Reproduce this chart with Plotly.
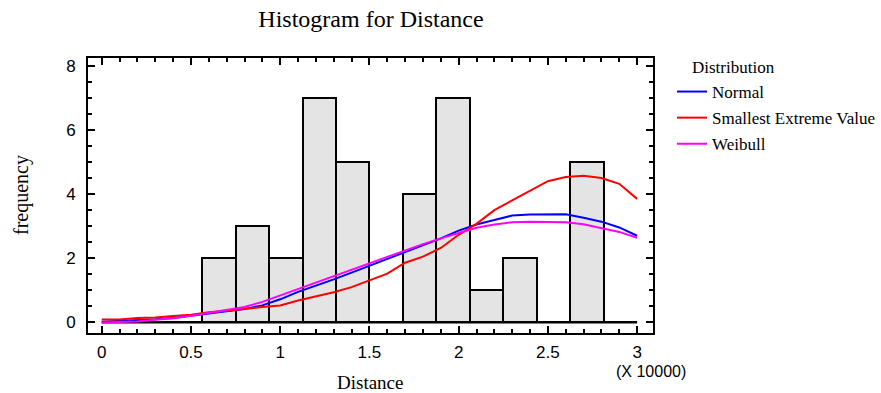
import plotly.graph_objects as go

# ---- data (Distance in units of 10000) ----
bin_edges = [0, 0.1875, 0.375, 0.5625, 0.75, 0.9375, 1.125, 1.3125, 1.5,
             1.6875, 1.875, 2.0625, 2.25, 2.4375, 2.625, 2.8125, 3.0]
counts = [0, 0, 0, 2, 3, 2, 7, 5, 0, 4, 7, 1, 2, 0, 5, 0]

curve_x = [0.0, 0.1, 0.2, 0.3, 0.4, 0.5, 0.6, 0.7, 0.8, 0.9, 1.0,
           1.1, 1.2, 1.3, 1.4, 1.5, 1.6, 1.7, 1.8, 1.9, 2.0,
           2.1, 2.2, 2.3, 2.4, 2.5, 2.6, 2.7, 2.8, 2.9, 3.0]
normal_y = [0.02, 0.04, 0.07, 0.10, 0.14, 0.21, 0.29, 0.35, 0.42, 0.53, 0.72,
            0.95, 1.14, 1.34, 1.55, 1.76, 1.97, 2.18, 2.40, 2.62, 2.86,
            3.05, 3.19, 3.33, 3.36, 3.37, 3.37, 3.26, 3.14, 2.96, 2.70]
sev_y = [0.09, 0.09, 0.14, 0.15, 0.20, 0.24, 0.32, 0.36, 0.42, 0.48, 0.53,
         0.68, 0.80, 0.94, 1.10, 1.32, 1.52, 1.86, 2.05, 2.32, 2.73,
         3.07, 3.50, 3.80, 4.09, 4.40, 4.53, 4.57, 4.50, 4.32, 3.85]
weibull_y = [0.00, 0.01, 0.03, 0.08, 0.13, 0.21, 0.30, 0.38, 0.48, 0.64, 0.84,
             1.05, 1.24, 1.44, 1.65, 1.86, 2.04, 2.25, 2.44, 2.62, 2.78,
             2.95, 3.05, 3.12, 3.14, 3.14, 3.12, 3.06, 2.95, 2.82, 2.64]

x_ticks = [0, 0.5, 1, 1.5, 2, 2.5, 3]
x_tick_labels = ["0", "0.5", "1", "1.5", "2", "2.5", "3"]
y_ticks = [0, 2, 4, 6, 8]

series = [("Normal", normal_y, "#0000ff"),
          ("Smallest Extreme Value", sev_y, "#ff0000"),
          ("Weibull", weibull_y, "#ff00ff")]

SERIF = "Liberation Serif, Times New Roman, serif"
SANS = "Liberation Sans Narrow, Liberation Sans, Arial, sans-serif"

centers = [(a + b) / 2 for a, b in zip(bin_edges[:-1], bin_edges[1:])]
widths = [b - a for a, b in zip(bin_edges[:-1], bin_edges[1:])]

fig = go.Figure()
fig.add_trace(go.Bar(x=centers, y=counts, width=widths,
                     marker=dict(color="#e4e4e4", line=dict(color="black", width=2)),
                     showlegend=False, hoverinfo="skip"))
fig.add_trace(go.Scatter(x=[bin_edges[0], bin_edges[-1]], y=[0, 0], mode="lines",
                         line=dict(color="black", width=2), showlegend=False,
                         hoverinfo="skip"))
for i, (name, ys, col) in enumerate(series):
    fig.add_trace(go.Scatter(x=curve_x, y=ys, mode="lines", name=name,
                             legendgroup="g%d" % i,
                             line=dict(color=col, width=2)))

axis_common = dict(showline=True, linewidth=2, linecolor="black", mirror="allticks",
                   ticks="inside", ticklen=7, tickwidth=2, tickcolor="black",
                   showgrid=False, zeroline=False, automargin=False,
                   tickfont=dict(family=SANS, size=17, color="black"))

fig.update_layout(
    width=881, height=393,
    margin=dict(l=88, r=228, t=58, b=60),
    plot_bgcolor="white", paper_bgcolor="white",
    bargap=0,
    title=dict(text="Histogram for Distance", x=371 / 881, xanchor="center",
               y=1 - 19 / 393, yanchor="middle",
               font=dict(family=SERIF, size=24, color="black")),
    xaxis=dict(range=[-0.077, 3.089], tickvals=x_ticks, ticktext=x_tick_labels,
               ticklabelstandoff=3,
               minor=dict(dtick=0.1, ticks="inside", ticklen=4, tickwidth=1.5,
                          tickcolor="black"),
               **axis_common),
    yaxis=dict(range=[-0.33, 8.24], tickvals=y_ticks,
               ticklabelstandoff=7,
               minor=dict(dtick=0.5, ticks="inside", ticklen=4, tickwidth=1.5,
                          tickcolor="black"),
               **axis_common),
    legend=dict(xref="container", yref="container", x=672 / 881, y=1 - 74 / 393,
                xanchor="left", yanchor="top", tracegroupgap=1,
                font=dict(family=SERIF, size=17, color="black"),
                bgcolor="rgba(0,0,0,0)"),
    annotations=[
        dict(text="Distribution", xref="paper", yref="paper",
             x=(690 - 88) / 565, y=1 - (67 - 58) / 275, xanchor="left",
             yanchor="middle", showarrow=False,
             font=dict(family=SERIF, size=17, color="black")),
        dict(text="(X 10000)", xref="paper", yref="paper",
             x=(651 - 88) / 565, y=-(371 - 333) / 275, xanchor="center",
             yanchor="middle", showarrow=False,
             font=dict(family=SANS, size=16, color="black")),
        dict(text="Distance", xref="paper", yref="paper",
             x=(370 - 88) / 565, y=-(382 - 333) / 275, xanchor="center",
             yanchor="middle", showarrow=False,
             font=dict(family=SERIF, size=19, color="black")),
        dict(text="frequency", xref="paper", yref="paper", textangle=-90,
             x=(21 - 88) / 565, y=(333 - 195) / 275, xanchor="center",
             yanchor="middle", showarrow=False,
             font=dict(family=SERIF, size=20, color="black")),
    ],
)

fig.write_html("out.html")
